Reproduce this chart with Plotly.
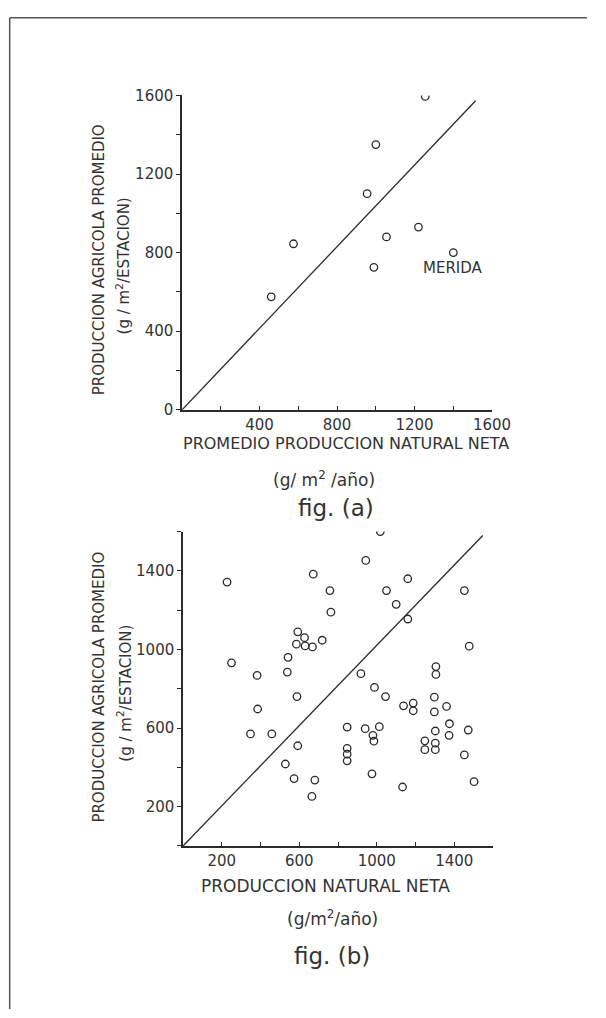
import plotly.graph_objects as go

# ---- fig (a) data ----
a_x = [460, 575, 1255, 1000, 955, 1055, 1220, 990, 1400]
a_y = [575, 845, 1595, 1350, 1100, 880, 930, 725, 800]
a_line_x = [0, 1515]
a_line_y = [0, 1573]
a_label = "MERIDA"
a_label_pos = (1400, 720)

# ---- fig (b) data ----
b_x = [227, 250, 382, 385, 348, 458, 538, 542, 588, 592, 528, 573,
       592, 627, 585, 630, 668, 718,
       1018, 943, 672, 1160, 758, 1050, 1452, 1100, 1160, 763,
       918, 1305, 1305, 1477, 988, 1045, 1138, 1188, 1188, 1297, 1297,
       1360, 1375, 1373, 1302, 1472, 1248, 1248, 1302, 1302, 1452, 1502,
       1133, 975, 847, 847, 847, 847, 940, 1013, 980, 985, 680, 665]
b_y = [1343, 932, 868, 697, 570, 570, 885, 960, 760, 510, 417, 343,
       1090, 1060, 1027, 1018, 1013, 1047,
       1600, 1453, 1383, 1360, 1300, 1300, 1300, 1230, 1155, 1190,
       877, 913, 873, 1017, 807, 760, 713, 727, 688, 757, 682,
       710, 622, 563, 585, 590, 535, 490, 523, 490, 463, 327,
       300, 367, 605, 497, 467, 433, 597, 607, 563, 533, 335, 252]
b_line_x = [0, 1547]
b_line_y = [0, 1580]

# ---- tick labels (labelled ticks; unlabelled minor ticks every 200) ----
a_xticks = [400, 800, 1200, 1600]
a_xtext = ["400", "800", "1200", "1600"]
a_yticks = [0, 400, 800, 1200, 1600]
a_ytext = ["0", "400", "800", "1200", "1600"]
b_xticks = [200, 600, 1000, 1400]
b_xtext = ["200", "600", "1000", "1400"]
b_yticks = [200, 600, 1000, 1400]
b_ytext = ["200", "600", "1000", "1400"]
minor_step = 200

W, H = 606, 1018
INK = "#2a2a2a"
TXT = "#333333"
FONT = "DejaVu Sans"


def px(xp):
    return xp / W


def py(yp):
    return 1 - yp / H


fig = go.Figure()

marker = dict(symbol="circle-open", size=7.5, color=INK, line=dict(width=1.3, color=INK))

fig.add_trace(go.Scatter(x=a_line_x, y=a_line_y, mode="lines",
                         line=dict(color=INK, width=1.3), xaxis="x", yaxis="y",
                         showlegend=False, hoverinfo="skip"))
fig.add_trace(go.Scatter(x=a_x, y=a_y, mode="markers", marker=marker,
                         xaxis="x", yaxis="y", showlegend=False))
fig.add_trace(go.Scatter(x=b_line_x, y=b_line_y, mode="lines",
                         line=dict(color=INK, width=1.3), xaxis="x2", yaxis="y2",
                         showlegend=False, hoverinfo="skip"))
fig.add_trace(go.Scatter(x=b_x, y=b_y, mode="markers", marker=marker,
                         xaxis="x2", yaxis="y2", showlegend=False))

tickfont = dict(family=FONT, size=15, color=TXT)
common = dict(showgrid=False, zeroline=False, showline=True, linecolor=INK,
              linewidth=1.6, tickcolor=INK, ticklen=4, tickwidth=1.3,
              tickfont=tickfont, tickmode="array", fixedrange=True)


def minor(kind):
    return dict(ticks=kind, ticklen=4, tickwidth=1.3, tickcolor=INK,
                tick0=0, dtick=minor_step, showgrid=False)


fig.update_layout(
    autosize=True,
    margin=dict(l=0, r=0, t=0, b=0),
    paper_bgcolor="white", plot_bgcolor="rgba(0,0,0,0)",
    xaxis=dict(domain=[px(188), px(508)], range=[0, 1600], anchor="y",
               ticks="inside", tickvals=a_xticks, ticktext=a_xtext,
               minor=minor("inside"), **common),
    yaxis=dict(domain=[py(408), py(88)], range=[0, 1600], anchor="x",
               ticks="outside", tickvals=a_yticks, ticktext=a_ytext,
               minor=minor("outside"), **common),
    xaxis2=dict(domain=[px(189), px(509)], range=[0, 1600], anchor="y2",
                ticks="inside", tickvals=b_xticks, ticktext=b_xtext,
                minor=minor("inside"), **common),
    yaxis2=dict(domain=[py(852), py(532)], range=[0, 1600], anchor="x2",
                ticks="outside", tickvals=b_yticks, ticktext=b_ytext,
                minor=minor("outside"), **common),
)

titlefont = dict(family=FONT, size=15, color=TXT)
xtitlefont = dict(family=FONT, size=16, color=TXT)
xtitlefont_b = dict(family=FONT, size=17, color=TXT)
unitfont = dict(family=FONT, size=17, color=TXT)
figfont = dict(family=FONT, size=23, color=TXT)


def paper_text(xp, yp, text, font, angle=0):
    return dict(x=px(xp), y=py(yp), xref="paper", yref="paper", text=text,
                textangle=angle, showarrow=False, font=font,
                xanchor="center", yanchor="middle")


ann = []
# fig (a) texts
ann.append(dict(x=a_label_pos[0], y=a_label_pos[1], xref="x", yref="y", text=a_label,
                showarrow=False, font=dict(family=FONT, size=15, color=TXT),
                xanchor="center", yanchor="middle"))
ann.append(paper_text(103, 255, "PRODUCCION AGRICOLA PROMEDIO", titlefont, -90))
ann.append(paper_text(127, 262, "(g / m<sup>2</sup>/ESTACION)", titlefont, -90))
ann.append(paper_text(357, 442, "PROMEDIO PRODUCCION NATURAL NETA", xtitlefont))
ann.append(paper_text(335, 478, "(g/ m<sup>2</sup> /año)", unitfont))
ann.append(paper_text(347, 508, "fig. (a)", figfont))

# fig (b) texts
ann.append(paper_text(102, 690, "PRODUCCION AGRICOLA PROMEDIO", titlefont, -90))
ann.append(paper_text(128, 696, "(g / m<sup>2</sup>/ESTACION)", titlefont, -90))
ann.append(paper_text(336, 893, "PRODUCCION NATURAL NETA", xtitlefont_b))
ann.append(paper_text(343, 925, "(g/m<sup>2</sup>/año)", unitfont))
ann.append(paper_text(343, 964, "fig. (b)", figfont))

fig.update_layout(annotations=ann)

# page border (top and left edges as in the scan)
fig.add_shape(type="line", xref="paper", yref="paper", x0=px(10), x1=1, y0=py(9), y1=py(9),
              line=dict(color="#555", width=1.5))
fig.add_shape(type="line", xref="paper", yref="paper", x0=px(10), x1=px(10), y0=py(9), y1=0,
              line=dict(color="#555", width=1.5))

fig.write_html(
    "out.html",
    default_width="100vw",
    default_height="100vh",
    config={"displayModeBar": False, "responsive": True},
    post_script="document.documentElement.style.overflow='hidden';"
                "document.body.style.margin='0';document.body.style.overflow='hidden';",
)
